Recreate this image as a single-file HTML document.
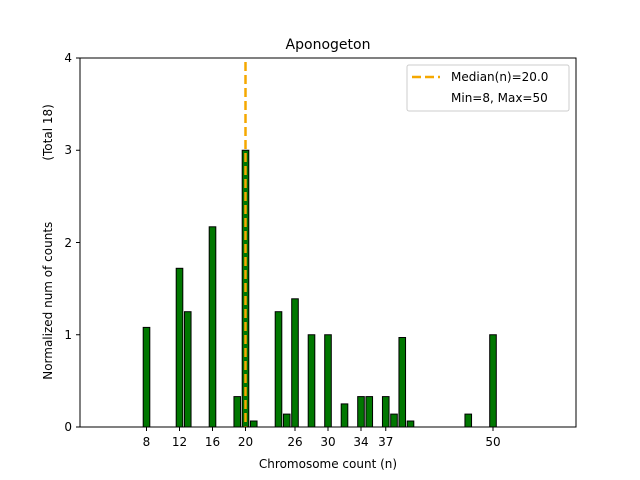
<!DOCTYPE html>
<html><head><style>body{margin:0;background:#fff}svg{display:block;font-family:"DejaVu Sans","Liberation Sans",sans-serif}</style></head><body>
<svg width="640" height="480" viewBox="0 0 640 480" xmlns="http://www.w3.org/2000/svg">
<rect width="640" height="480" fill="#fff"/>
<g fill="#007700" stroke="#000" stroke-width="1">
<rect x="143.2" y="327.4" width="6.6" height="99.6"/>
<rect x="176.2" y="268.3" width="6.6" height="158.7"/>
<rect x="184.45" y="311.7" width="6.6" height="115.3"/>
<rect x="209.2" y="226.8" width="6.6" height="200.2"/>
<rect x="233.95" y="396.6" width="6.6" height="30.4"/>
<rect x="242.2" y="150.25" width="6.6" height="276.75"/>
<rect x="250.45" y="421" width="6.6" height="6"/>
<rect x="275.2" y="311.7" width="6.6" height="115.3"/>
<rect x="283.45" y="414.1" width="6.6" height="12.9"/>
<rect x="291.7" y="298.8" width="6.6" height="128.2"/>
<rect x="308.2" y="334.75" width="6.6" height="92.25"/>
<rect x="324.7" y="334.75" width="6.6" height="92.25"/>
<rect x="341.2" y="403.9" width="6.6" height="23.1"/>
<rect x="357.7" y="396.6" width="6.6" height="30.4"/>
<rect x="365.95" y="396.6" width="6.6" height="30.4"/>
<rect x="382.45" y="396.6" width="6.6" height="30.4"/>
<rect x="390.7" y="414.1" width="6.6" height="12.9"/>
<rect x="398.95" y="337.5" width="6.6" height="89.5"/>
<rect x="407.2" y="421" width="6.6" height="6"/>
<rect x="464.95" y="414.1" width="6.6" height="12.9"/>
<rect x="489.7" y="334.75" width="6.6" height="92.25"/>
</g>
<line x1="245.5" y1="62" x2="245.5" y2="427" stroke="#f5a800" stroke-width="2.5" stroke-dasharray="9,4"/>
<rect x="80" y="58" width="496" height="369" fill="none" stroke="#000" stroke-width="1"/>
<g stroke="#000" stroke-width="1">
<line x1="76" y1="427" x2="80" y2="427"/><line x1="76" y1="334.75" x2="80" y2="334.75"/><line x1="76" y1="242.5" x2="80" y2="242.5"/><line x1="76" y1="150.25" x2="80" y2="150.25"/><line x1="76" y1="58" x2="80" y2="58"/>
<line x1="146.5" y1="427" x2="146.5" y2="431"/><line x1="179.5" y1="427" x2="179.5" y2="431"/><line x1="212.5" y1="427" x2="212.5" y2="431"/><line x1="245.5" y1="427" x2="245.5" y2="431"/><line x1="295" y1="427" x2="295" y2="431"/><line x1="328" y1="427" x2="328" y2="431"/><line x1="361" y1="427" x2="361" y2="431"/><line x1="385.75" y1="427" x2="385.75" y2="431"/><line x1="493" y1="427" x2="493" y2="431"/>
</g>
<g font-size="12" fill="#000" text-anchor="end">
<text x="72" y="431">0</text><text x="72" y="339">1</text><text x="72" y="247">2</text><text x="72" y="154">3</text><text x="72" y="62">4</text>
</g>
<g font-size="12" fill="#000" text-anchor="middle">
<text x="146.5" y="446">8</text><text x="179.5" y="446">12</text><text x="212.5" y="446">16</text><text x="245.5" y="446">20</text><text x="295" y="446">26</text><text x="328" y="446">30</text><text x="361" y="446">34</text><text x="385.75" y="446">37</text><text x="493" y="446">50</text>
<text x="328" y="468">Chromosome count (n)</text>
<text x="328" y="49" font-size="14">Aponogeton</text>
<text transform="translate(52,242) rotate(-90)" style="white-space:pre">Normalized num of counts                (Total 18)</text>
</g>
<rect x="407" y="65" width="162" height="46" rx="2" fill="#fff" stroke="#ccc" stroke-width="1"/>
<line x1="412" y1="77" x2="440" y2="77" stroke="#f5a800" stroke-width="2.5" stroke-dasharray="9,4"/>
<g font-size="12" fill="#000"><text x="451" y="81">Median(n)=20.0</text><text x="451" y="102">Min=8, Max=50</text></g>
</svg>
</body></html>
